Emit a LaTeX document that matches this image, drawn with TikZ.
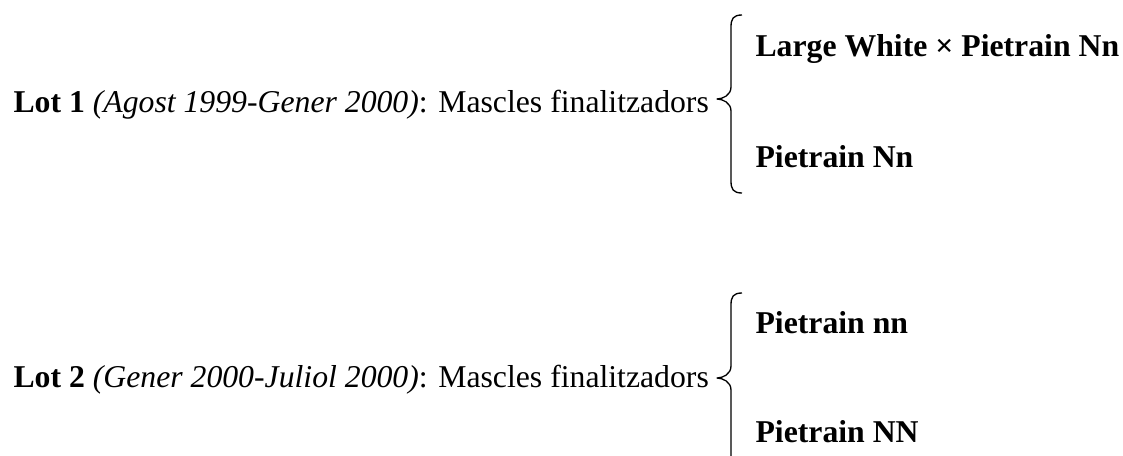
\documentclass[tikz,border=0pt]{standalone}
\usepackage{fontspec}
\setmainfont{Liberation Serif}
\usetikzlibrary{calc}

\begin{document}
\begin{tikzpicture}[
  x=0.375pt, y=-0.375pt,
  every node/.style={font=\fontsize{11.9}{14.4}\selectfont, inner sep=0pt, anchor=base west},
  lotbrace/.style={line width=0.5pt, line join=round}
]
\useasboundingbox (0,0) rectangle (1123,456);

% left side: the two lots
\node (lot1) at (13,113) {\textbf{Lot 1} \textit{(Agost 1999-Gener 2000)}: Mascles finalitzadors};
\node (lot2) at (13,387) {\textbf{Lot 2} \textit{(Gener 2000-Juliol 2000)}: Mascles finalitzadors};

% right side: the crosses
\node (lot1a) at (755,57)  {\textbf{Large White × Pietrain Nn}};
\node (lot1b) at (755,168) {\textbf{Pietrain Nn}};
\node (lot2a) at (755,333) {\textbf{Pietrain nn}};
\node (lot2b) at (755,442) {\textbf{Pietrain NN}};

% braces: top end, tip, bottom end
\coordinate (b1top) at (742,15);  \coordinate (b1tip) at (717,99);  \coordinate (b1bot) at (742,193);
\coordinate (b2top) at (742,293); \coordinate (b2tip) at (717,378); \coordinate (b2bot) at (742,472);

\foreach \b in {b1,b2} {
  \draw [lotbrace] (\b top) .. controls ++(-9,0) and ++(0,-8) .. ++(-11,12)
    -- ($(\b tip)+(14,-12)$) .. controls ++(0,8) and ++(6,0) .. (\b tip)
    .. controls ++(6,0) and ++(0,-8) .. ++(14,12)
    -- ($(\b bot)+(-11,-12)$) .. controls ++(0,8) and ++(-9,0) .. (\b bot);
}
\end{tikzpicture}
\end{document}
